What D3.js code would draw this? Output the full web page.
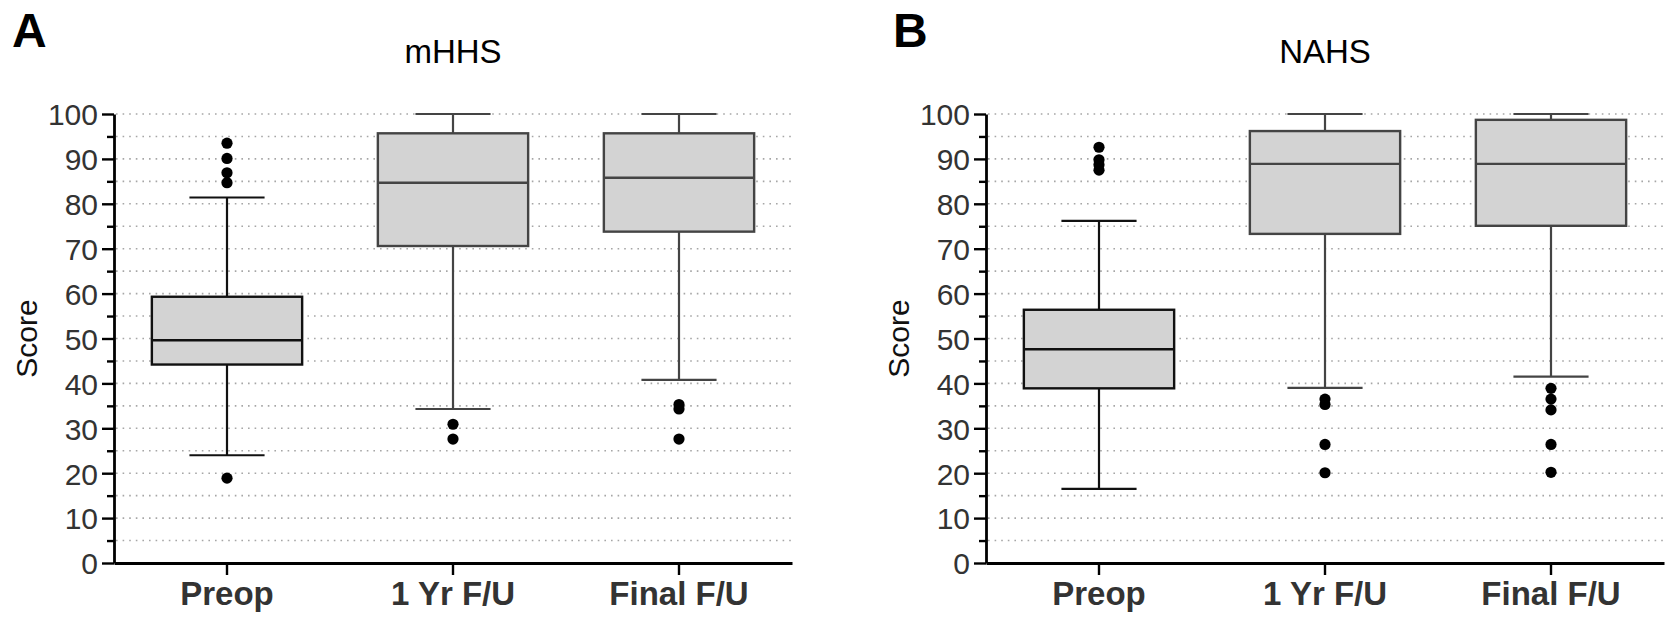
<!DOCTYPE html>
<html>
<head>
<meta charset="utf-8">
<script src="https://cdn.jsdelivr.net/npm/d3@7"></script>
<style>
  body { margin: 0; background: #fff; }
  svg { display: block; }
  text { font-family: 'Liberation Sans', Arial, sans-serif; }
</style>
</head>
<body>
<svg id="chart"></svg>
<script>
/* global d3: true */

var categories = ['Preop', '1 Yr F/U', 'Final F/U'];
var yTicks = [0, 10, 20, 30, 40, 50, 60, 70, 80, 90, 100];
var yMinorTicks = [5, 15, 25, 35, 45, 55, 65, 75, 85, 95];
var gridValues = [5, 10, 15, 20, 25, 30, 35, 40, 45, 50, 55, 60, 65, 70, 75, 80, 85, 90, 95, 100];

// mHHS, one value per category
var mhhsLow = [24.0, 34.3, 40.8];
var mhhsQ1 = [44.2, 70.6, 73.8];
var mhhsMedian = [49.6, 84.7, 85.8];
var mhhsQ3 = [59.3, 95.7, 95.7];
var mhhsHigh = [81.4, 100, 100];
var mhhsOutliers = [[93.5, 90.1, 86.9, 84.7, 18.9], [30.9, 27.6], [35.3, 34.3, 27.6]];

// NAHS
var nahsLow = [16.5, 39.0, 41.5];
var nahsQ1 = [38.9, 73.3, 75.1];
var nahsMedian = [47.6, 88.9, 88.9];
var nahsQ3 = [56.4, 96.2, 98.7];
var nahsHigh = [76.2, 100, 100];
var nahsOutliers = [[92.6, 89.8, 88.7, 87.5], [36.5, 35.3, 26.4, 20.1], [38.9, 36.5, 34.1, 26.4, 20.2]];

var chartWidth = 1671, chartHeight = 619;
var plotTop = 114, plotBottom = 563;

var svg = d3.select('#chart').attr('width', chartWidth).attr('height', chartHeight);

function drawPanel(opts) {
    var x = d3.scaleBand().domain(categories).range([opts.left, opts.right]);
    var y = d3.scaleLinear().domain([0, 100]).range([plotBottom, plotTop]);
    var g = svg.append('g');

    // dotted grid
    g.append('g')
        .selectAll('line')
        .data(gridValues)
        .enter().append('line')
        .attr('x1', opts.left + 2)
        .attr('x2', opts.right)
        .attr('y1', function(d) { return y(d); })
        .attr('y2', function(d) { return y(d); })
        .attr('stroke', '#a6a6a6')
        .attr('stroke-width', 1.6)
        .attr('stroke-dasharray', '1.6,5');

    var rows = categories.map(function(c, i) {
        return {
            cat: c, i: i,
            low: opts.low[i], q1: opts.q1[i], med: opts.median[i],
            q3: opts.q3[i], high: opts.high[i]
        };
    });
    var boxW = x.bandwidth() * 0.665;
    var capW = boxW / 2;
    var cx = function(d) { return x(d.cat) + x.bandwidth() / 2; };
    var col = function(d) { return d.i === 0 ? '#111' : '#444'; };

    var boxes = g.append('g').selectAll('g')
        .data(rows)
        .enter().append('g');

    boxes.append('line')
        .attr('x1', cx).attr('x2', cx)
        .attr('y1', function(d) { return y(d.high); })
        .attr('y2', function(d) { return y(d.low); })
        .attr('stroke', col).attr('stroke-width', 2.2);
    boxes.append('line')
        .attr('x1', function(d) { return cx(d) - capW / 2; })
        .attr('x2', function(d) { return cx(d) + capW / 2; })
        .attr('y1', function(d) { return y(d.high); })
        .attr('y2', function(d) { return y(d.high); })
        .attr('stroke', col).attr('stroke-width', 2.2);
    boxes.append('line')
        .attr('x1', function(d) { return cx(d) - capW / 2; })
        .attr('x2', function(d) { return cx(d) + capW / 2; })
        .attr('y1', function(d) { return y(d.low); })
        .attr('y2', function(d) { return y(d.low); })
        .attr('stroke', col).attr('stroke-width', 2.2);
    boxes.append('rect')
        .attr('x', function(d) { return cx(d) - boxW / 2; })
        .attr('width', boxW)
        .attr('y', function(d) { return y(d.q3); })
        .attr('height', function(d) { return y(d.q1) - y(d.q3); })
        .attr('fill', '#d3d3d3')
        .attr('stroke', col).attr('stroke-width', 2.4);
    boxes.append('line')
        .attr('x1', function(d) { return cx(d) - boxW / 2; })
        .attr('x2', function(d) { return cx(d) + boxW / 2; })
        .attr('y1', function(d) { return y(d.med); })
        .attr('y2', function(d) { return y(d.med); })
        .attr('stroke', col).attr('stroke-width', 2.4);

    // outliers
    var pts = [];
    opts.outliers.forEach(function(list, i) {
        list.forEach(function(v) { pts.push({cat: categories[i], v: v}); });
    });
    g.append('g').selectAll('circle')
        .data(pts)
        .enter().append('circle')
        .attr('cx', function(d) { return x(d.cat) + x.bandwidth() / 2; })
        .attr('cy', function(d) { return y(d.v); })
        .attr('r', 5.6)
        .attr('fill', '#000');

    // y axis
    var yAxis = g.append('g')
        .attr('transform', 'translate(' + opts.left + ',0)')
        .call(d3.axisLeft(y).tickValues(yTicks).tickSize(12).tickSizeOuter(0).tickPadding(4));
    g.append('g')
        .attr('transform', 'translate(' + opts.left + ',0)')
        .call(d3.axisLeft(y).tickValues(yMinorTicks).tickSize(7).tickFormat('').tickSizeOuter(0))
        .call(function(a) { a.select('.domain').remove(); })
        .selectAll('line').attr('stroke', '#000').attr('stroke-width', 2.4);
    yAxis.select('.domain').attr('stroke', '#000').attr('stroke-width', 2.8);
    yAxis.selectAll('line').attr('stroke', '#000').attr('stroke-width', 2.4);
    yAxis.selectAll('text')
        .attr('font-size', 30)
        .attr('fill', '#333')
        .attr('dy', '0.36em');

    // x axis
    var xAxis = g.append('g')
        .attr('transform', 'translate(0,' + plotBottom + ')')
        .call(d3.axisBottom(x).tickSize(12).tickSizeOuter(0).tickPadding(7));
    xAxis.select('.domain').attr('stroke', '#000').attr('stroke-width', 2.8);
    xAxis.selectAll('line').attr('stroke', '#000').attr('stroke-width', 2.4);
    xAxis.selectAll('text')
        .attr('font-size', 33)
        .attr('font-weight', 'bold')
        .attr('fill', '#333');

    // axis title
    g.append('text')
        .attr('transform', 'translate(' + (opts.left - 77) + ',' + ((plotTop + plotBottom) / 2) + ') rotate(-90)')
        .attr('text-anchor', 'middle')
        .attr('font-size', 30)
        .attr('fill', '#111')
        .text('Score');

    // chart title
    g.append('text')
        .attr('x', (opts.left + opts.right) / 2)
        .attr('y', 63)
        .attr('text-anchor', 'middle')
        .attr('font-size', 33)
        .attr('fill', '#000')
        .text(opts.title);

    // panel letter
    g.append('text')
        .attr('x', opts.letterX)
        .attr('y', 47)
        .attr('font-size', 48)
        .attr('font-weight', 'bold')
        .attr('fill', '#000')
        .text(opts.letter);
}

drawPanel({
    letter: 'A', letterX: 12, title: 'mHHS', left: 114, right: 792,
    low: mhhsLow, q1: mhhsQ1, median: mhhsMedian, q3: mhhsQ3, high: mhhsHigh,
    outliers: mhhsOutliers
});
drawPanel({
    letter: 'B', letterX: 893, title: 'NAHS', left: 986, right: 1664,
    low: nahsLow, q1: nahsQ1, median: nahsMedian, q3: nahsQ3, high: nahsHigh,
    outliers: nahsOutliers
});
</script>
</body>
</html>
